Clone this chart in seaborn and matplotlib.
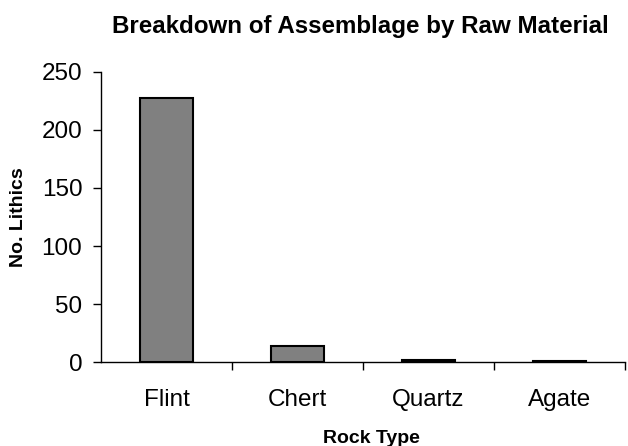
import matplotlib
matplotlib.use("Agg")
import matplotlib.pyplot as plt
import seaborn as sns
import pandas as pd
from matplotlib.ticker import FixedLocator, NullFormatter

categories = ["Flint", "Chert", "Quartz", "Agate"]
counts = [227, 14, 2, 1]
y_ticks = [0, 50, 100, 150, 200, 250]

sns.set_theme(style="white")
plt.rcParams["font.family"] = ["Liberation Sans", "DejaVu Sans"]
plt.rcParams["text.color"] = "black"
plt.rcParams["axes.labelcolor"] = "black"
plt.rcParams["xtick.color"] = "black"
plt.rcParams["ytick.color"] = "black"

df = pd.DataFrame({"Rock Type": categories, "No. Lithics": counts})

W, H = 628, 446
fig = plt.figure(figsize=(W / 100, H / 100), dpi=100)
ax = fig.add_axes([101 / W, 1 - 362.3 / H, 524 / W, 290.6 / H])

sns.barplot(data=df, x="Rock Type", y="No. Lithics", ax=ax,
            color="#808080", saturation=1, width=0.41,
            edgecolor="black", linewidth=1.5)

ax.set_xlim(-0.5, 3.5)
ax.set_ylim(0, 250)
ax.set_yticks(y_ticks)
ax.set_yticklabels([str(v) for v in y_ticks], fontsize=17.5)

# category labels centred on bars, tick marks on category boundaries
ax.set_xticks(range(len(categories)))
ax.set_xticklabels(categories, fontsize=17.5)
ax.tick_params(axis="x", which="major", length=0, pad=19)
ax.xaxis.set_minor_locator(FixedLocator([0.5, 1.5, 2.5, 3.5]))
ax.xaxis.set_minor_formatter(NullFormatter())
ax.tick_params(axis="x", which="minor", bottom=True, length=5.5, width=1,
               color="black", direction="out")
ax.tick_params(axis="y", left=True, length=5.5, width=1, color="black",
               direction="out", pad=8)

for side in ["top", "right"]:
    ax.spines[side].set_visible(False)
for side in ["left", "bottom"]:
    ax.spines[side].set_color("black")
    ax.spines[side].set_linewidth(1)

ax.set_xlabel("Rock Type", fontsize=14, fontweight="bold", va="baseline")
ax.xaxis.set_label_coords((371 - 101) / 524, -(443 - 362.3) / 290.6)
ax.set_ylabel("No. Lithics", fontsize=14, fontweight="bold", va="center")
ax.yaxis.set_label_coords((18 - 101) / 524, 0.5)

fig.text(360 / W, 1 - 33.5 / H, "Breakdown of Assemblage by Raw Material",
         ha="center", va="baseline", fontsize=17.4, fontweight="bold")

fig.savefig("out.png", dpi=100)
